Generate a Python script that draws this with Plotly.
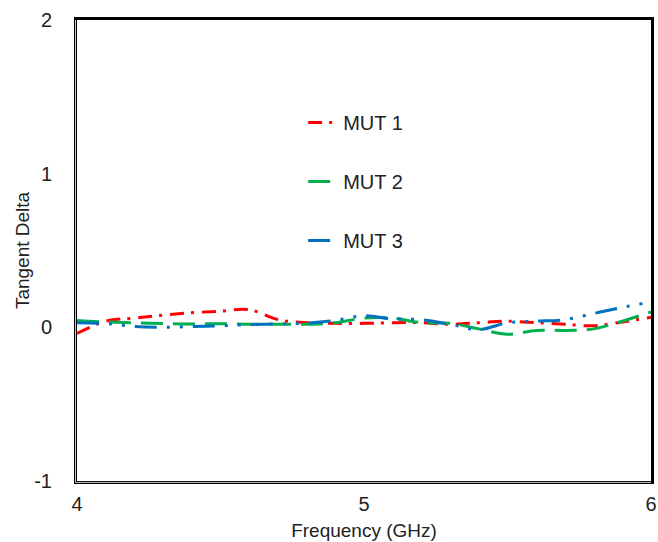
import plotly.graph_objects as go

freq = [4.0, 4.1, 4.2, 4.3, 4.4, 4.5, 4.6, 4.7, 4.8, 4.9, 5.0,
        5.1, 5.2, 5.3, 5.4, 5.5, 5.6, 5.7, 5.8, 5.9, 6.0]
mut1 = [-0.04, 0.04, 0.06, 0.08, 0.095, 0.105, 0.115, 0.05, 0.03, 0.026, 0.026,
        0.03, 0.03, 0.02, 0.03, 0.04, 0.03, 0.02, 0.01, 0.035, 0.065]
mut2 = [0.045, 0.035, 0.03, 0.025, 0.022, 0.024, 0.02, 0.02, 0.02, 0.03, 0.06,
        0.06, 0.03, 0.026, -0.01, -0.045, -0.02, -0.02, -0.01, 0.04, 0.1]
mut3 = [0.03, 0.025, 0.005, 0.0, 0.005, 0.01, 0.018, 0.022, 0.028, 0.045, 0.075,
        0.055, 0.05, 0.02, -0.015, 0.03, 0.04, 0.05, 0.09, 0.13, 0.165]

x_ticks = [4, 5, 6]
y_ticks = [-1, 0, 1, 2]
y_ticktext = ["-1", "0", "1", "2"]

names = ["MUT 1", "MUT 2", "MUT 3"]
colors = ["#FF0000", "#00B050", "#0070C0"]
dashes = ["14px,7px,3px,8px", "22px,10px", "22px,10px,3px,10px,3px,10px"]

fig = go.Figure()
for i, (nm, ys) in enumerate(zip(names, [mut1, mut2, mut3])):
    fig.add_trace(go.Scatter(
        x=freq, y=ys, mode="lines", name=nm, legendgroup=nm,
        line=dict(color=colors[i], width=3, dash=dashes[i], shape="spline"),
    ))

# light inner stripe to mimic the double line on left and bottom borders
fig.add_shape(type="line", xref="paper", yref="paper", x0=-0.0026, x1=-0.0026,
              y0=-0.003, y1=1.0, line=dict(color="#c8c8c8", width=1), layer="above")
fig.add_shape(type="line", xref="paper", yref="paper", x0=-0.0026, x1=1.0,
              y0=-0.003, y1=-0.003, line=dict(color="#c8c8c8", width=1), layer="above")

fig.update_layout(
    width=658, height=542,
    margin=dict(l=77, r=7, t=20, b=61),
    paper_bgcolor="white", plot_bgcolor="white",
    font=dict(family="Liberation Sans, Arial", size=20, color="#222"),
    showlegend=True,
    legend=dict(x=0.394, y=0.82, xanchor="left", yanchor="top",
                bgcolor="rgba(0,0,0,0)", tracegroupgap=30,
                font=dict(size=20)),
    xaxis=dict(range=[4, 6], tickvals=x_ticks, showgrid=False, zeroline=False,
               showline=True, linecolor="black", linewidth=3, mirror=True,
               ticks="", ticklabelstandoff=3, automargin=False,
               ticklabeloverflow="allow", tickfont=dict(size=20),
               title=dict(text="Frequency (GHz)", standoff=10, font=dict(size=19))),
    yaxis=dict(range=[-1, 2], tickvals=y_ticks, ticktext=y_ticktext,
               showgrid=False, zeroline=False,
               showline=True, linecolor="black", linewidth=3, mirror=True,
               ticks="", ticklabelstandoff=18, automargin=False,
               ticklabeloverflow="allow", tickfont=dict(size=20),
               title=dict(text="Tangent Delta", standoff=0, font=dict(size=19))),
)

fig.write_html("out.html", config={"displayModeBar": False},
               post_script="document.body.style.margin='0';document.body.style.overflow='hidden';")
